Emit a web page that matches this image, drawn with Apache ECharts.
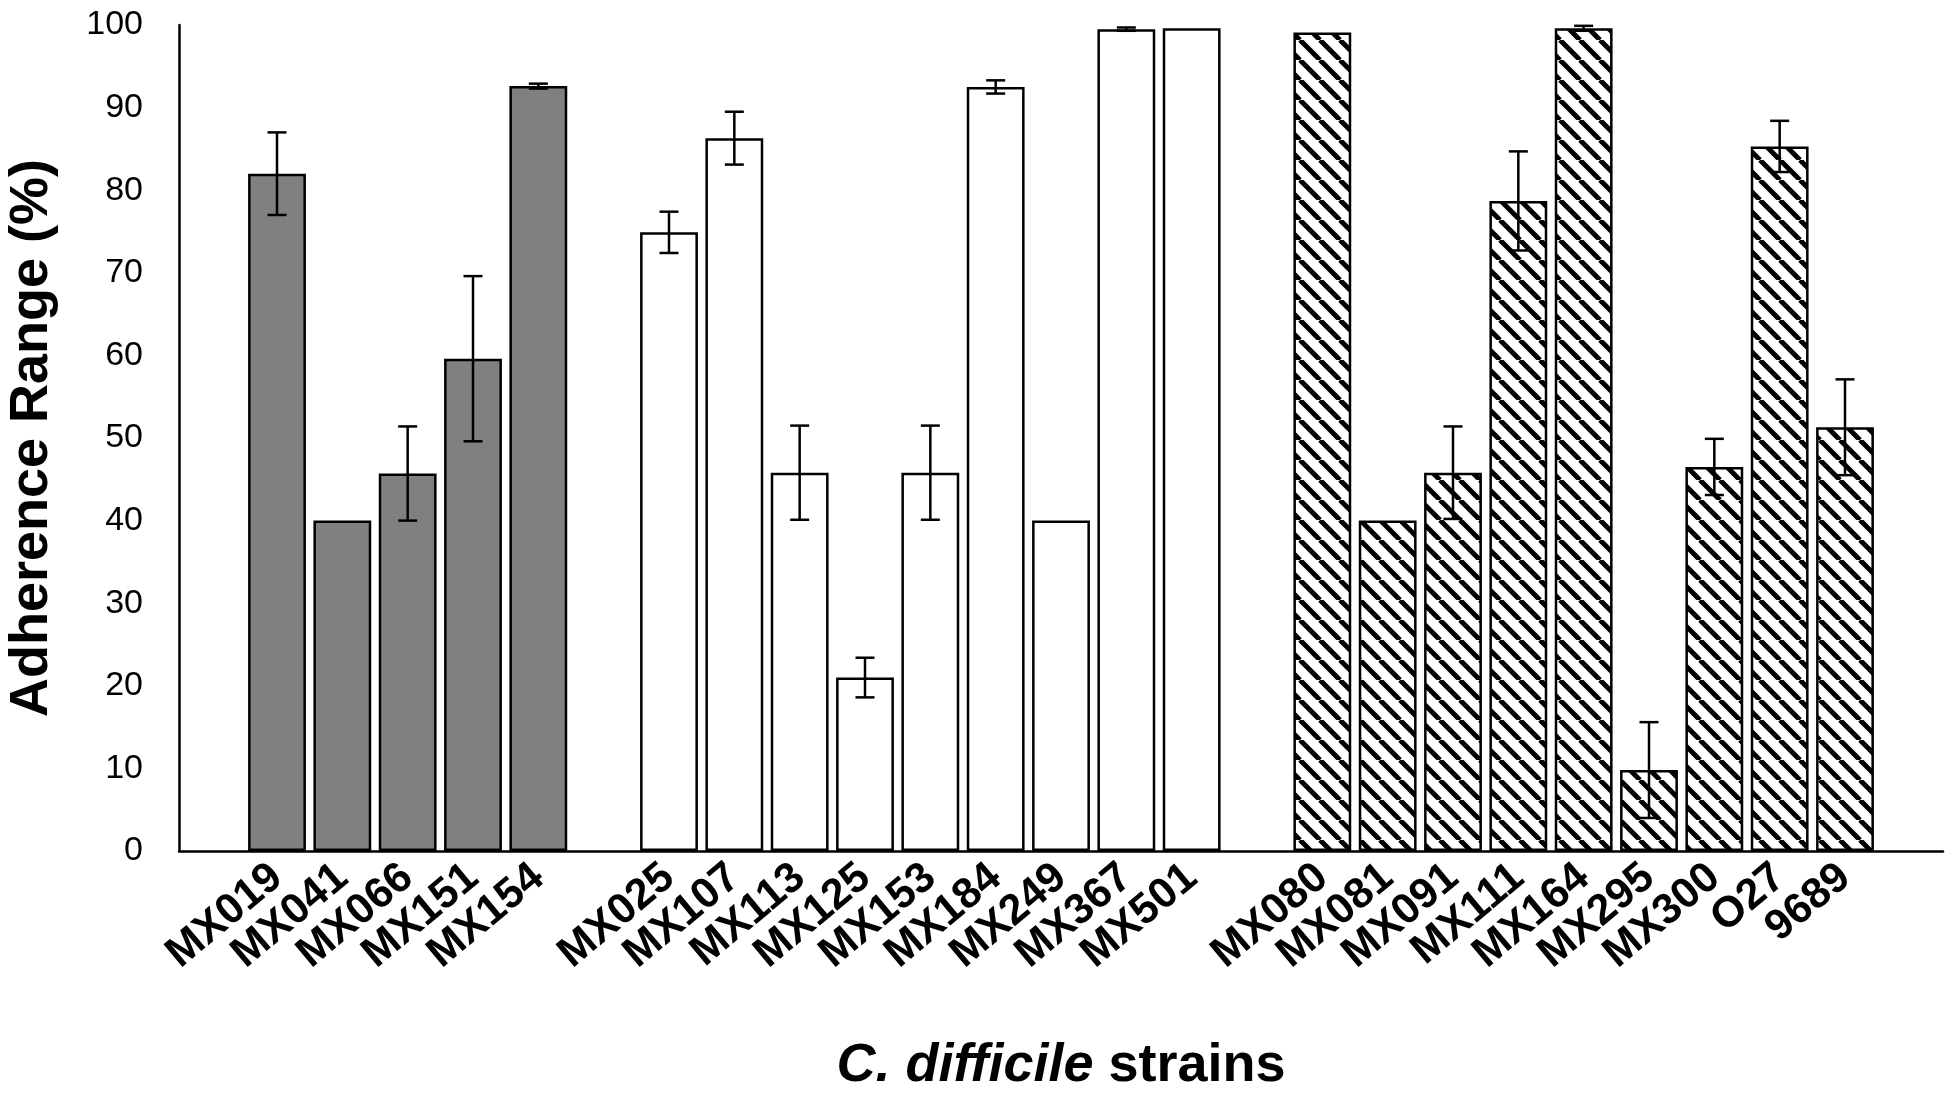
<!DOCTYPE html>
<html>
<head>
<meta charset="utf-8">
<title>C. difficile adherence</title>
<script src="https://cdn.jsdelivr.net/npm/echarts@6/dist/echarts.min.js"></script>
<style>
    html, body { margin: 0; padding: 0; background: #fff; }
    #chart { width: 1956px; height: 1095px; }
</style>
</head>
<body>
<div id="chart"></div>
<script>
// group 1 - solid gray bars
var grayStrains = ['MX019', 'MX041', 'MX066', 'MX151', 'MX154'];
var grayMeans = [82.0, 40.0, 45.7, 59.6, 92.6];
var grayErrs = [5.0, 0, 5.7, 10.0, 0.3];

// group 2 - white bars
var whiteStrains = ['MX025', 'MX107', 'MX113', 'MX125', 'MX153', 'MX184', 'MX249', 'MX367', 'MX501'];
var whiteMeans = [74.9, 86.3, 45.8, 21.0, 45.8, 92.5, 40.0, 99.5, 99.6];
var whiteErrs = [2.5, 3.2, 5.7, 2.4, 5.7, 0.8, 0, 0.2, 0];

// group 3 - hatched bars
var hatchStrains = ['MX080', 'MX081', 'MX091', 'MX111', 'MX164', 'MX295', 'MX300', 'O27', '9689'];
var hatchMeans = [99.1, 40.0, 45.8, 78.7, 99.6, 9.8, 46.5, 85.3, 51.3];
var hatchErrs = [0, 0, 5.6, 6.0, 0.3, 5.8, 3.4, 3.1, 5.8];

var yTicks = [0, 100, 10]; // min, max, step

// empty slots between the groups
var categories = [''].concat(grayStrains, [' '], whiteStrains, ['  '], hatchStrains, ['   ']);

function hatchPattern() {
    var s = 20;
    var c = document.createElement('canvas');
    c.width = s;
    c.height = s;
    var ctx = c.getContext('2d');
    ctx.fillStyle = '#fff';
    ctx.fillRect(0, 0, s, s);
    ctx.strokeStyle = '#000';
    ctx.lineWidth = 5;
    for (var k = -1; k <= 1; k++) {
        ctx.beginPath();
        ctx.moveTo(k * s, 0);
        ctx.lineTo(k * s + s, s);
        ctx.stroke();
    }
    return c;
}

// put a group's values in its own slots, '-' elsewhere
function GetColumn(offset, values) {
    var Ret = [];
    for (var i = 0; i < categories.length; i++) {
        var j = i - offset;
        Ret.push(j >= 0 && j < values.length ? values[j] : '-');
    }
    return Ret;
}

function GetErrData(offset, means, errs) {
    var Ret = [];
    for (var i = 0; i < means.length; i++) {
        if (errs[i] > 0) {
            Ret.push([offset + i, means[i] - errs[i], means[i] + errs[i]]);
        }
    }
    return Ret;
}

var grayOffset = 1;
var whiteOffset = grayOffset + grayStrains.length + 1;
var hatchOffset = whiteOffset + whiteStrains.length + 1;

var errData = GetErrData(grayOffset, grayMeans, grayErrs)
    .concat(GetErrData(whiteOffset, whiteMeans, whiteErrs))
    .concat(GetErrData(hatchOffset, hatchMeans, hatchErrs));

var font = '"Liberation Sans", Arial, sans-serif';

function barSeries(name, data, fill) {
    return {
        name: name,
        type: 'bar',
        barWidth: '88.5%',
        barGap: '-100%',
        data: data,
        itemStyle: {
            color: fill,
            borderColor: '#000',
            borderWidth: 2.5
        },
        emphasis: { disabled: true },
        animation: false
    };
}

var myChart = echarts.init(document.getElementById('chart'));
var option = {
    backgroundColor: '#fff',
    animation: false,
    grid: {
        left: 179,
        right: 13,
        top: 25,
        bottom: 244,
        containLabel: false,
        outerBoundsMode: 'none'
    },
    xAxis: {
        type: 'category',
        data: categories,
        axisTick: { show: false },
        axisLine: { lineStyle: { color: '#000', width: 2.5 } },
        axisLabel: {
            interval: 0,
            rotate: 40,
            margin: 21,
            color: '#000',
            fontSize: 43,
            fontWeight: 'bold',
            fontFamily: font
        },
        name: '{i|C. difficile}{b| strains}',
        nameLocation: 'middle',
        nameGap: 188,
        nameTextStyle: {
            color: '#000',
            fontFamily: font,
            rich: {
                i: { fontSize: 54, fontWeight: 'bold', fontStyle: 'italic', fontFamily: font, color: '#000' },
                b: { fontSize: 54, fontWeight: 'bold', fontFamily: font, color: '#000' }
            }
        }
    },
    yAxis: {
        type: 'value',
        min: yTicks[0],
        max: yTicks[1],
        interval: yTicks[2],
        axisLine: { show: true, lineStyle: { color: '#000', width: 2.5 } },
        axisTick: { show: false },
        splitLine: { show: false },
        axisLabel: {
            margin: 36,
            color: '#000',
            fontSize: 34,
            fontFamily: font
        },
        name: 'Adherence Range (%)',
        nameLocation: 'middle',
        nameGap: 120,
        nameTextStyle: {
            color: '#000',
            fontSize: 54,
            fontWeight: 'bold',
            fontFamily: font
        }
    },
    series: [
        barSeries('gray', GetColumn(grayOffset, grayMeans), '#808080'),
        barSeries('white', GetColumn(whiteOffset, whiteMeans), '#ffffff'),
        barSeries('hatch', GetColumn(hatchOffset, hatchMeans), { image: hatchPattern(), repeat: 'repeat' }),
        {
            name: 'err',
            type: 'custom',
            z: 10,
            data: errData,
            renderItem: function (params, api) {
                var lo = api.coord([api.value(0), api.value(1)]);
                var hi = api.coord([api.value(0), api.value(2)]);
                var w = 9.5;
                var st = { stroke: '#000', lineWidth: 2.5 };
                return {
                    type: 'group',
                    children: [
                        { type: 'line', shape: { x1: lo[0], y1: lo[1], x2: hi[0], y2: hi[1] }, style: st },
                        { type: 'line', shape: { x1: lo[0] - w, y1: lo[1], x2: lo[0] + w, y2: lo[1] }, style: st },
                        { type: 'line', shape: { x1: hi[0] - w, y1: hi[1], x2: hi[0] + w, y2: hi[1] }, style: st }
                    ]
                };
            },
            animation: false
        }
    ]
};
myChart.setOption(option);
</script>
</body>
</html>
